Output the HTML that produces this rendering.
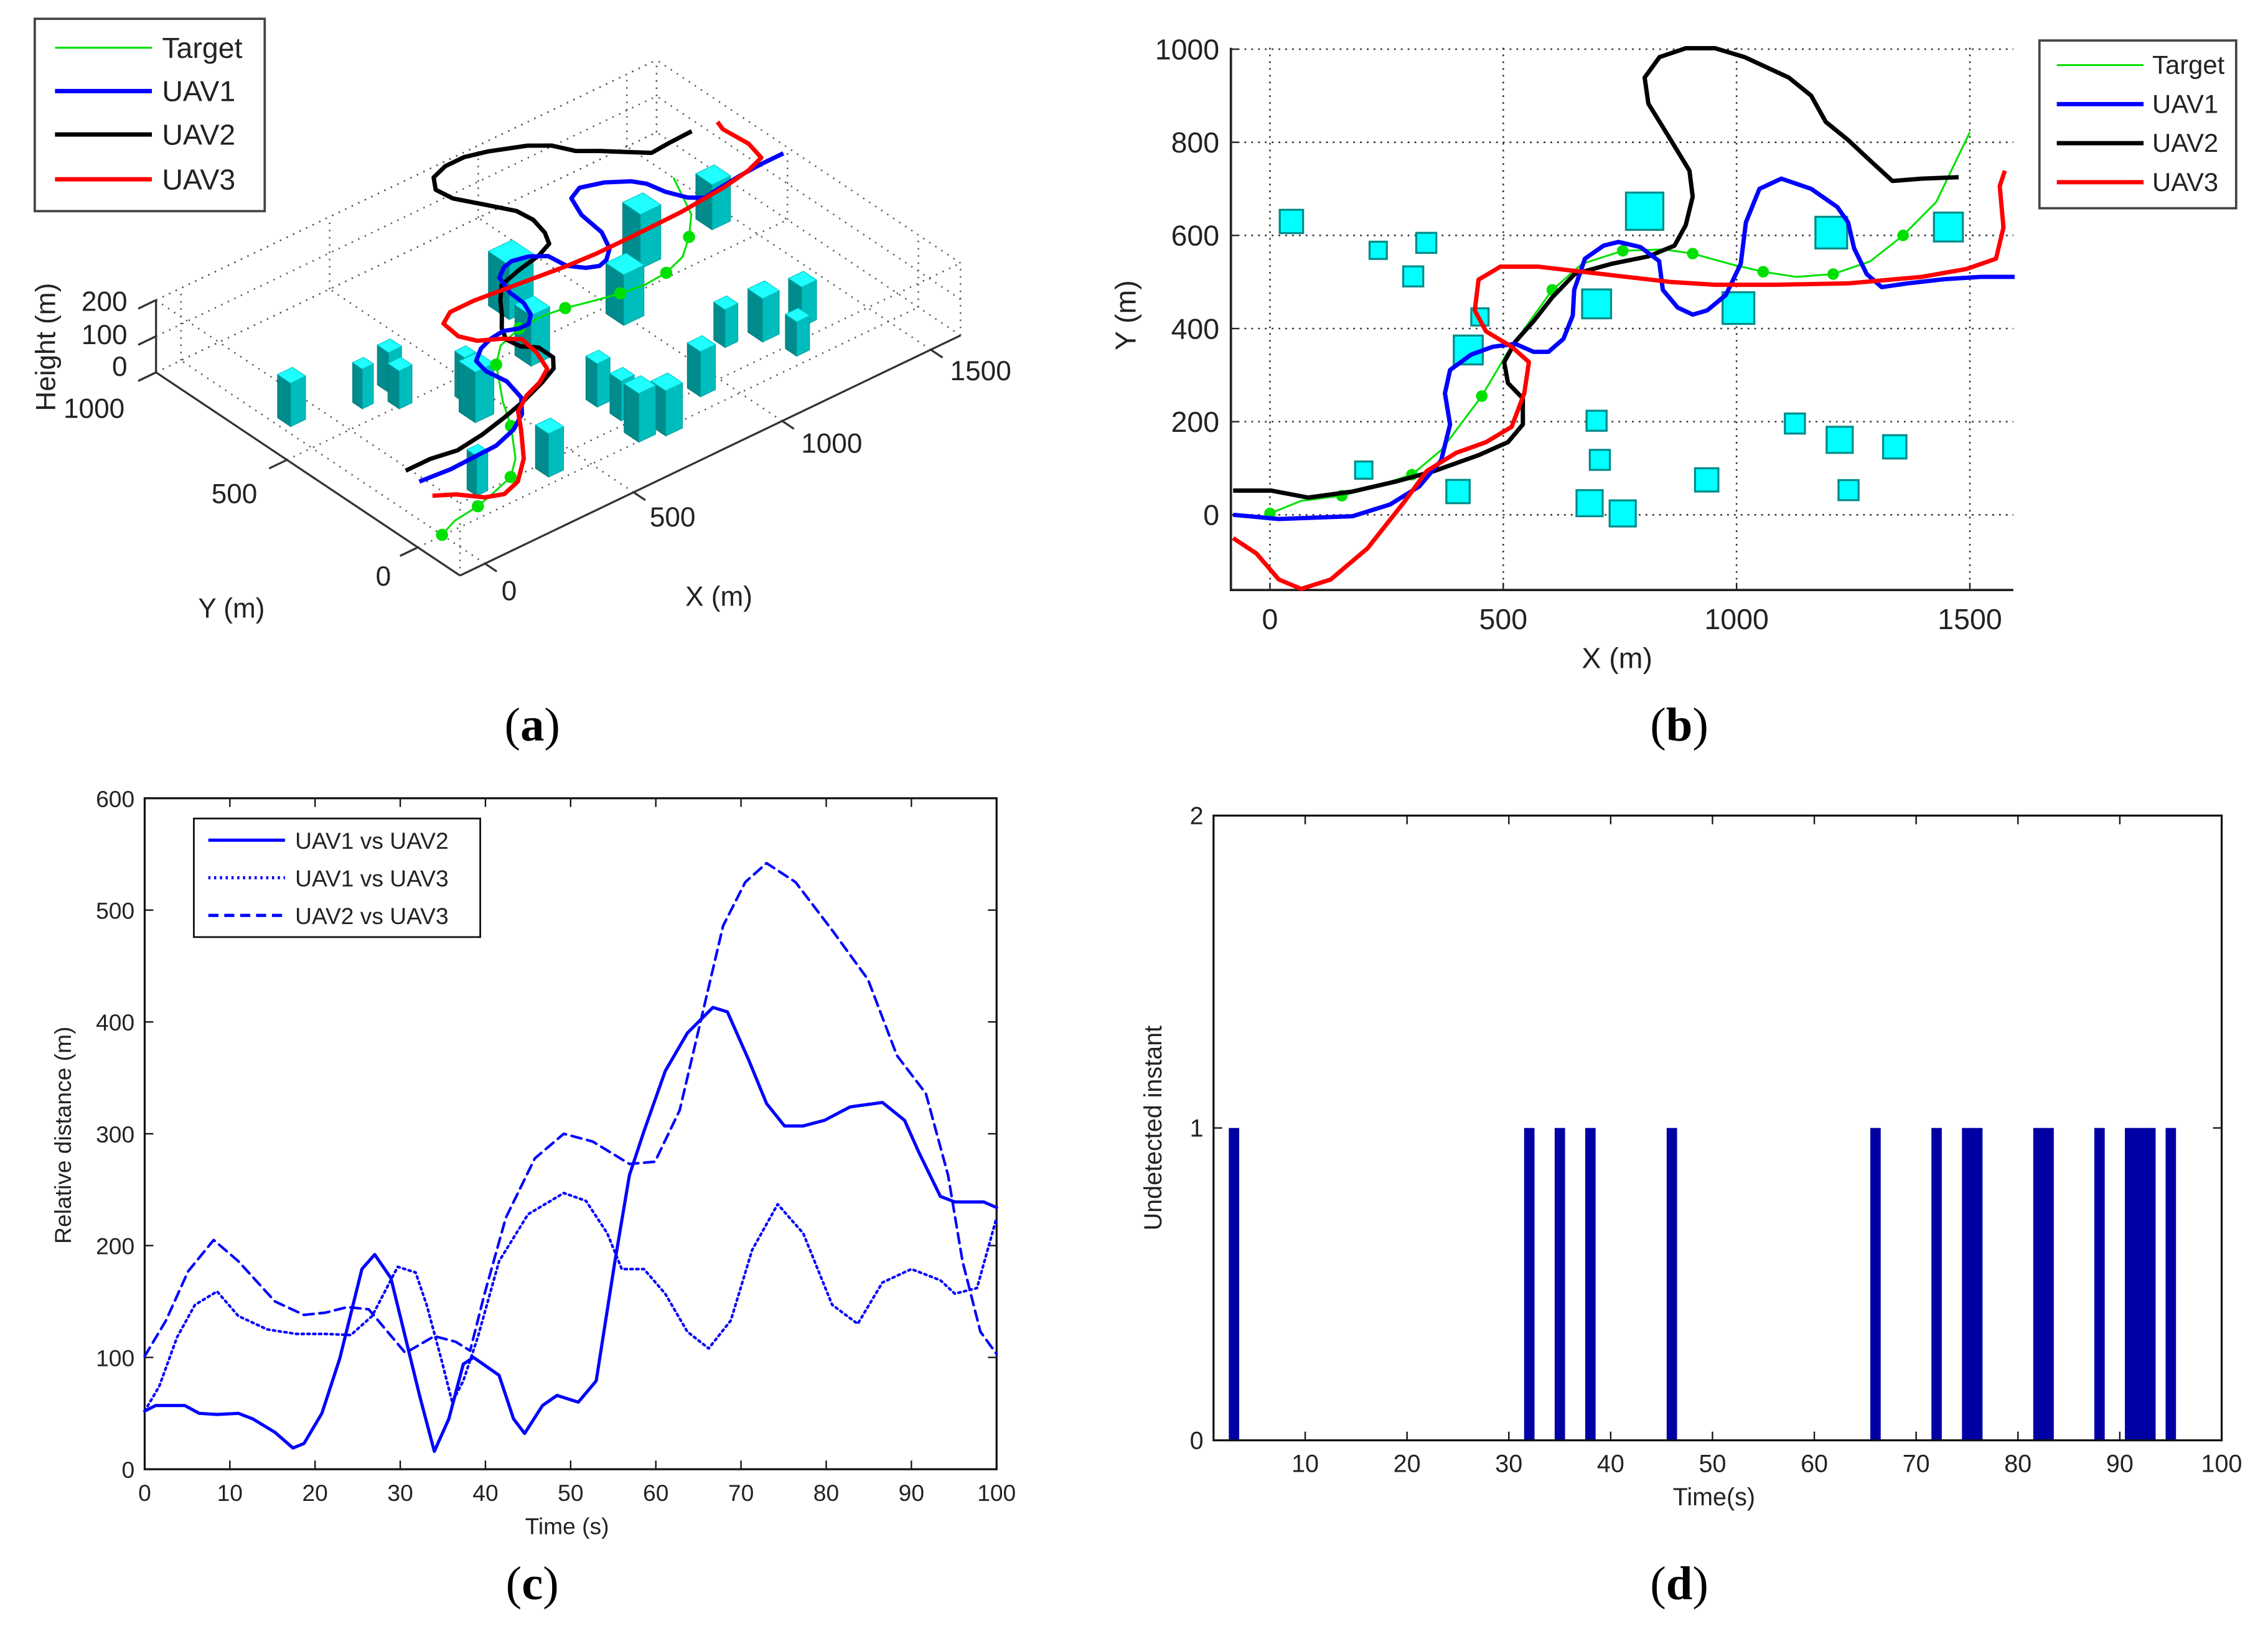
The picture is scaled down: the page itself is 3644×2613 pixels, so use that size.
<!DOCTYPE html>
<html><head><meta charset="utf-8"><style>
html,body{margin:0;padding:0;background:#fff;}
svg{display:block;}
text{font-family:"Liberation Sans",sans-serif;}
.cap{font-family:"Liberation Serif",serif;font-size:33px;}
</style></head><body>
<svg id="root" xmlns="http://www.w3.org/2000/svg" width="3644" height="2613" viewBox="0 0 1568 1124.4">
<rect x="0" y="0" width="1568" height="1124.4" fill="#fff"/>
<text class="cap" x="368" y="512" text-anchor="middle">(<tspan font-weight="bold">a</tspan>)</text>
<text class="cap" x="1161" y="512" text-anchor="middle">(<tspan font-weight="bold">b</tspan>)</text>
<text class="cap" x="368" y="1106" text-anchor="middle">(<tspan font-weight="bold">c</tspan>)</text>
<text class="cap" x="1161" y="1106" text-anchor="middle">(<tspan font-weight="bold">d</tspan>)</text>
</svg>
<script>
// ---------- shared data (panel a & b) : X/Y in metres ----------
const targetX=[0,67,154,209,304,367,454,510,605,669,756,843,906,985,1057,1128,1207,1286,1357,1428,1500];
const targetY=[3,30,41,56,86,139,255,350,483,539,567,570,561,539,522,511,517,544,600,672,822];
const targetMarkX=[0,154,304,454,605,756,906,1057,1207,1357];
const targetMarkY=[3,41,86,255,483,567,561,522,517,600];
const uav1X=[-79,19,177,257,320,367,386,375,386,431,478,526,565,597,629,649,652,675,715,747,794,834,842,874,906,937,977,1009,1020,1049,1096,1160,1216,1239,1252,1279,1311,1366,1445,1524,1596];
const uav1Y=[0,-9,-3,22,61,117,194,261,311,344,361,367,350,350,378,428,483,550,578,586,575,545,483,445,430,439,472,539,628,700,722,700,661,628,572,517,489,497,506,511,511];
const uav2X=[-79,3,82,177,272,352,447,510,542,542,510,502,526,566,605,653,732,811,867,891,906,899,859,811,803,835,891,954,1017,1112,1160,1191,1239,1286,1334,1397,1476];
const uav2Y=[52,52,37,50,72,94,128,156,194,250,283,328,372,417,467,517,539,555,578,622,683,739,805,883,939,983,1002,1002,983,939,900,844,805,761,717,722,725];
const uav3X=[-79,-29,19,67,130,209,288,336,399,463,518,545,555,518,463,439,447,494,574,669,764,859,954,1080,1239,1397,1493,1556,1572,1564,1575];
const uav3Y=[-50,-83,-139,-159,-139,-72,28,94,133,156,189,261,328,361,394,439,505,533,533,522,511,500,494,494,497,511,528,550,617,706,739];
const bldX=[46,232,335,307,450,425,403,201,803,700,1004,1203,1454,700,707,685,756,936,1125,1221,1339,1240];
const bldY=[630,568,584,512,425,354,50,96,652,453,444,606,618,202,118,25,3,75,196,161,146,53];
const bldSize=[50,37,43,43,37,62,50,37,80,62,68,68,62,43,43,56,56,50,43,56,50,43];
const bldH=[120,110,110,105,125,140,120,110,150,140,140,150,125,120,110,135,125,125,105,120,110,95];
const uavAlt=[180,185,165];
// ---------- panel c ----------
const cT12=[0,1.3,4.7,6.4,8.5,11.0,12.7,15.3,17.4,18.7,20.8,22.9,25.5,27.0,28.9,30.6,32.3,34.0,35.7,37.4,38.6,41.6,43.3,44.6,46.7,48.4,50.9,53.0,55.2,56.9,58.6,61.1,63.7,66.7,68.4,70.9,73.0,75.1,77.3,79.8,82.8,86.6,89.2,90.9,93.4,95.1,98.5,100];
const cV12=[52,57,57,50,49,50,45,33,19,23,50,99,179,192,171,118,65,16,45,94,100,84,45,32,57,66,60,79,186,263,302,356,390,413,409,366,327,307,307,312,324,328,312,283,244,239,239,234];
const cT13=[0,1.7,3.8,5.9,8.5,11.0,14.4,17.8,21.2,24.2,26.7,29.7,31.8,33.1,34.8,36.1,37.4,39.1,41.6,45.0,49.2,51.8,54.3,56.0,58.6,61.1,63.7,66.2,68.8,71.3,74.3,77.3,80.7,83.7,86.6,90.0,93.4,95.1,97.7,100];
const cV13=[52,74,118,147,159,137,125,121,121,120,137,181,176,147,99,60,79,118,186,228,247,240,211,179,179,157,123,108,133,196,237,211,147,130,167,179,169,157,162,225];
const cT23=[0,2.5,5.1,8.1,11.0,15.3,18.7,21.2,23.8,26.3,30.6,34.0,36.5,38.2,39.9,42.4,45.8,49.2,52.6,56.9,59.9,62.8,65.8,67.9,70.5,73.0,76.4,80.7,84.9,88.3,91.7,94.3,96.0,98.1,100];
const cV23=[101,133,177,205,186,150,138,140,145,143,104,119,114,106,157,225,278,300,293,273,275,321,418,486,525,542,525,482,438,370,336,263,186,123,103];
const cXTicks=[0,10,20,30,40,50,60,70,80,90,100];
const cYTicks=[0,100,200,300,400,500,600];
// ---------- panel d ----------
const dTimes=[3,32,35,38,46,66,72,75,76,82,83,88,91,92,93,95];
const dValues=[1,1,1,1,1,1,1,1,1,1,1,1,1,1,1,1];
const dXTicks=[10,20,30,40,50,60,70,80,90,100];
const dYTicks=[0,1,2];
// ---------- panel b ticks ----------
const bXTicks=[0,500,1000,1500];
const bYTicks=[0,200,400,600,800,1000];

const NS='http://www.w3.org/2000/svg';
const root=document.getElementById('root');
function add(parent,tag,attrs,txt){const e=document.createElementNS(NS,tag);for(const k in attrs)e.setAttribute(k,attrs[k]);if(txt!==undefined)e.textContent=txt;parent.appendChild(e);return e;}
function grp(name){const g=add(root,'g',{});


return g;}
function pts(xs,ys,fx,fy){return xs.map((v,i)=>fx(v).toFixed(2)+','+fy(ys[i]).toFixed(2)).join(' ');}

// ================= Panel A (3D) =================
const pA=grp('panel-a-3d-trajectories');
function px(X,Y,Z){return 318+(X+84)*0.2055-(Y+161)*0.181;}
function py(X,Y,Z){return 398-(X+84)*0.0986-(Y+161)*0.121-(Z||0)*0.25;}
const X0=-84,X1=1600,Y0=-161,Y1=1000,Z1=200;
function dl(g,a,b,name){const l=add(g,'line',{x1:px(...a),y1:py(...a),x2:px(...b),y2:py(...b),stroke:'#555','stroke-width':1.1,'stroke-dasharray':'1,4'});

}
const gridA=add(pA,'g',{});


[0,500,1000,1500].forEach(x=>{dl(gridA,[x,Y0,0],[x,Y1,0],'floor-grid-x');dl(gridA,[x,Y1,0],[x,Y1,Z1],'wall-grid-x');});
[0,500,1000].forEach(y=>{dl(gridA,[X0,y,0],[X1,y,0],'floor-grid-y');dl(gridA,[X1,y,0],[X1,y,Z1],'wall-grid-y');});
[0,100,200].forEach(z=>{dl(gridA,[X0,Y1,z],[X1,Y1,z],'wall-grid-z');dl(gridA,[X1,Y0,z],[X1,Y1,z],'wall-grid-z');});
dl(gridA,[X0,Y1,Z1],[X0,Y0,Z1],'box-edge');dl(gridA,[X0,Y0,Z1],[X1,Y0,Z1],'box-edge');dl(gridA,[X0,Y0,0],[X0,Y0,Z1],'box-edge');dl(gridA,[X1,Y0,0],[X1,Y0,Z1],'box-edge');dl(gridA,[X1,Y1,0],[X1,Y1,Z1],'box-edge');dl(gridA,[X0,Y1,Z1],[X1,Y1,Z1],'box-edge');
function sl(g,a,b,name){const l=add(g,'line',{x1:px(...a),y1:py(...a),x2:px(...b),y2:py(...b),stroke:'#333','stroke-width':1.4});

}
sl(pA,[X0,Y0,0],[X1,Y0,0],'x-axis');sl(pA,[X0,Y0,0],[X0,Y1,0],'y-axis');sl(pA,[X0,Y1,0],[X0,Y1,Z1],'z-axis');
[0,500,1000,1500].forEach(x=>sl(pA,[x,Y0,0],[x,Y0-45,0],'x-tick'));
[0,500,1000].forEach(y=>sl(pA,[X0,y,0],[X0-60,y,0],'y-tick'));
[0,100,200].forEach(z=>sl(pA,[X0,Y1,z],[X0-60,Y1,z],'z-tick'));
function tA(x,y,s,name,anchor,extra){const t=add(pA,'text',Object.assign({x:x,y:y,'font-size':19,fill:'#222','text-anchor':anchor||'middle'},extra||{}),s);

}
tA(352,415,'0','x-tick-label');tA(465,364,'500','x-tick-label');tA(575,313,'1000','x-tick-label');tA(678,263,'1500','x-tick-label');
tA(265,405,'0','y-tick-label');tA(162,348,'500','y-tick-label');tA(65,289,'1000','y-tick-label');
tA(88,260,'0','z-tick-label','end');tA(88,238,'100','z-tick-label','end');tA(88,215,'200','z-tick-label','end');
tA(497,419,'X (m)','x-axis-title');tA(160,427,'Y (m)','y-axis-title');
tA(38,240,'Height (m)','z-axis-title','middle',{transform:'rotate(-90 38 240)'});
const order=bldX.map((v,i)=>i).sort((a,b)=>(bldX[b]+bldY[b])-(bldX[a]+bldY[a]));
order.forEach(i=>{const s=bldSize[i]/2,x=bldX[i],y=bldY[i],h=bldH[i];
const g=add(pA,'g',{});


const P=(a,b,c)=>px(a,b,c).toFixed(1)+','+py(a,b,c).toFixed(1);
add(g,'polygon',{points:[P(x-s,y-s,0),P(x-s,y+s,0),P(x-s,y+s,h),P(x-s,y-s,h)].join(' '),fill:'#008c8c',stroke:'#007a7a','stroke-width':0.5});
add(g,'polygon',{points:[P(x-s,y-s,0),P(x+s,y-s,0),P(x+s,y-s,h),P(x-s,y-s,h)].join(' '),fill:'#00bdbd',stroke:'#00a0a0','stroke-width':0.5});
add(g,'polygon',{points:[P(x-s,y-s,h),P(x+s,y-s,h),P(x+s,y+s,h),P(x-s,y+s,h)].join(' '),fill:'#20ffff',stroke:'#00c8c8','stroke-width':0.5});
});
function traj3(g,xs,ys,z,col,w,name){const l=add(g,'polyline',{points:xs.map((v,i)=>px(v,ys[i],z).toFixed(2)+','+py(v,ys[i],z).toFixed(2)).join(' '),fill:'none',stroke:col,'stroke-width':w,'stroke-linejoin':'round'});

}
traj3(pA,targetX,targetY,0,'#00e000',1.3,'target-path-3d');
targetMarkX.forEach((v,i)=>{const c=add(pA,'circle',{cx:px(v,targetMarkY[i],0),cy:py(v,targetMarkY[i],0),r:4.2,fill:'#00e000'});

});
traj3(pA,uav2X,uav2Y,uavAlt[1],'#000',3,'uav2-path-3d');
traj3(pA,uav1X,uav1Y,uavAlt[0],'#0000ff',3,'uav1-path-3d');
traj3(pA,uav3X,uav3Y,uavAlt[2],'#ff0000',3,'uav3-path-3d');
const lgA=add(pA,'g',{});


add(lgA,'rect',{x:24,y:13,width:159,height:133,fill:'#fff',stroke:'#444','stroke-width':1.6});
[['Target','#00e000',1.3,36],['UAV1','#0000ff',3,66],['UAV2','#000',3,96],['UAV3','#ff0000',3,127]].forEach(e=>{
const g=add(lgA,'g',{});


add(g,'line',{x1:38,y1:e[3]-3,x2:105,y2:e[3]-3,stroke:e[1],'stroke-width':e[2]});
add(g,'text',{x:112,y:e[3]+4,'font-size':20,fill:'#222'},e[0]);});

// ================= Panel B (top view) =================
const pB=grp('panel-b-top-view');
const bx=X=>878+X*0.3226, by=Y=>356-Y*0.322;
const BL=851,BR=1392,BT=33,BB=408;
bXTicks.forEach(v=>{const l=add(pB,'line',{x1:bx(v),y1:BT,x2:bx(v),y2:BB,stroke:'#333','stroke-width':1.1,'stroke-dasharray':'1.2,3.5'});


const t=add(pB,'text',{x:bx(v),y:435,'font-size':20,'text-anchor':'middle',fill:'#222'},String(v));


add(pB,'line',{x1:bx(v),y1:BB,x2:bx(v),y2:BB-5,stroke:'#222','stroke-width':1});});
bYTicks.forEach(v=>{const l=add(pB,'line',{x1:BL,y1:by(v),x2:BR,y2:by(v),stroke:'#333','stroke-width':1.1,'stroke-dasharray':'1.2,3.5'});


const t=add(pB,'text',{x:843,y:by(v)+7,'font-size':20,'text-anchor':'end',fill:'#222'},String(v));


add(pB,'line',{x1:BL,y1:by(v),x2:BL+5,y2:by(v),stroke:'#222','stroke-width':1});});
const bAx=add(pB,'polyline',{points:`${BL},${BT} ${BL},${BB} ${BR},${BB}`,fill:'none',stroke:'#222','stroke-width':1.6});


const bxt=add(pB,'text',{x:1118,y:462,'font-size':20,'text-anchor':'middle',fill:'#222'},'X (m)');


const byt=add(pB,'text',{x:785,y:218,'font-size':20,'text-anchor':'middle',fill:'#222',transform:'rotate(-90 785 218)'},'Y (m)');


bldX.forEach((v,i)=>{const s=bldSize[i]/2;
const r=add(pB,'rect',{x:bx(v-s),y:by(bldY[i]+s),width:bx(v+s)-bx(v-s),height:by(bldY[i]-s)-by(bldY[i]+s),fill:'#00ffff',stroke:'#008b8b','stroke-width':1.4});

});
function trajB(xs,ys,col,w,name){const l=add(pB,'polyline',{points:pts(xs,ys,bx,by),fill:'none',stroke:col,'stroke-width':w,'stroke-linejoin':'round'});

}
trajB(targetX,targetY,'#00e000',1.3,'target-path');
targetMarkX.forEach((v,i)=>{const c=add(pB,'circle',{cx:bx(v),cy:by(targetMarkY[i]),r:4,fill:'#00e000'});

});
trajB(uav2X,uav2Y,'#000',3,'uav2-path');
trajB(uav1X,uav1Y,'#0000ff',3,'uav1-path');
trajB(uav3X,uav3Y,'#ff0000',3,'uav3-path');
const lgB=add(pB,'g',{});


add(lgB,'rect',{x:1410,y:28,width:136,height:116,fill:'#fff',stroke:'#444','stroke-width':1.6});
[['Target','#00e000',1.3,45],['UAV1','#0000ff',3,72],['UAV2','#000',3,99],['UAV3','#ff0000',3,126]].forEach(e=>{
const g=add(lgB,'g',{});


add(g,'line',{x1:1422,y1:e[3],x2:1482,y2:e[3],stroke:e[1],'stroke-width':e[2]});
add(g,'text',{x:1488,y:e[3]+6,'font-size':18,fill:'#222'},e[0]);});

// ================= Panel C =================
const pC=grp('panel-c-relative-distance');
const cx=t=>100+t*5.89, cy=v=>1016-v*0.7733;
const CL=100,CR=689,CT=552,CB=1016;
const cf=add(pC,'rect',{x:CL,y:CT,width:CR-CL,height:CB-CT,fill:'none',stroke:'#111','stroke-width':1.4});


cXTicks.forEach(v=>{add(pC,'line',{x1:cx(v),y1:CB,x2:cx(v),y2:CB-6,stroke:'#111','stroke-width':1});add(pC,'line',{x1:cx(v),y1:CT,x2:cx(v),y2:CT+6,stroke:'#111','stroke-width':1});
const t=add(pC,'text',{x:cx(v),y:1038,'font-size':16,'text-anchor':'middle',fill:'#222'},String(v));

});
cYTicks.forEach(v=>{add(pC,'line',{x1:CL,y1:cy(v),x2:CL+6,y2:cy(v),stroke:'#111','stroke-width':1});add(pC,'line',{x1:CR,y1:cy(v),x2:CR-6,y2:cy(v),stroke:'#111','stroke-width':1});
const t=add(pC,'text',{x:93,y:cy(v)+6,'font-size':16,'text-anchor':'end',fill:'#222'},String(v));

});
const cxt=add(pC,'text',{x:392,y:1061,'font-size':16,'text-anchor':'middle',fill:'#222'},'Time (s)');


const cyt=add(pC,'text',{x:49,y:785,'font-size':16,'text-anchor':'middle',fill:'#222',transform:'rotate(-90 49 785)'},'Relative distance (m)');


function lineC(ts,vs,dash,name){const l=add(pC,'polyline',{points:pts(ts,vs,cx,cy),fill:'none',stroke:'#0000ff','stroke-width':dash?1.8:2.2,'stroke-dasharray':dash||'none','stroke-linejoin':'round','stroke-linecap':'round'});

}
lineC(cT13,cV13,'1.5,2.5','uav1-vs-uav3-line');
lineC(cT23,cV23,'7,4','uav2-vs-uav3-line');
lineC(cT12,cV12,null,'uav1-vs-uav2-line');
const lgC=add(pC,'g',{});


add(lgC,'rect',{x:134,y:566,width:198,height:82,fill:'#fff',stroke:'#111','stroke-width':1.2});
[['UAV1 vs UAV2','none',581],['UAV1 vs UAV3','1.5,2.5',607],['UAV2 vs UAV3','7,4',633]].forEach(e=>{
const g=add(lgC,'g',{});


add(g,'line',{x1:144,y1:e[2],x2:197,y2:e[2],stroke:'#0000ff','stroke-width':2.2,'stroke-dasharray':e[1]});
add(g,'text',{x:204,y:e[2]+6,'font-size':16,fill:'#222'},e[0]);});

// ================= Panel D =================
const pD=grp('panel-d-undetected');
const dx=t=>839+(t-1)*7.04, dy=v=>996-v*216;
const DL=839,DR=1536,DT=564,DB=996;
dTimes.forEach((t,i)=>{const r=add(pD,'rect',{x:dx(t-0.5),y:dy(dValues[i]),width:dx(t+0.52)-dx(t-0.5),height:dy(0)-dy(dValues[i]),fill:'#0000a4'});

});
const df=add(pD,'rect',{x:DL,y:DT,width:DR-DL,height:DB-DT,fill:'none',stroke:'#111','stroke-width':1.4});


dXTicks.forEach(v=>{add(pD,'line',{x1:dx(v),y1:DB,x2:dx(v),y2:DB-6,stroke:'#111','stroke-width':1});add(pD,'line',{x1:dx(v),y1:DT,x2:dx(v),y2:DT+6,stroke:'#111','stroke-width':1});
const t=add(pD,'text',{x:dx(v),y:1018,'font-size':17,'text-anchor':'middle',fill:'#222'},String(v));

});
dYTicks.forEach(v=>{add(pD,'line',{x1:DL,y1:dy(v),x2:DL+6,y2:dy(v),stroke:'#111','stroke-width':1});add(pD,'line',{x1:DR,y1:dy(v),x2:DR-6,y2:dy(v),stroke:'#111','stroke-width':1});
const t=add(pD,'text',{x:832,y:dy(v)+6,'font-size':17,'text-anchor':'end',fill:'#222'},String(v));

});
const dxt=add(pD,'text',{x:1185,y:1041,'font-size':17,'text-anchor':'middle',fill:'#222'},'Time(s)');


const dyt=add(pD,'text',{x:803,y:780,'font-size':17,'text-anchor':'middle',fill:'#222',transform:'rotate(-90 803 780)'},'Undetected instant');


</script>
</body></html>
